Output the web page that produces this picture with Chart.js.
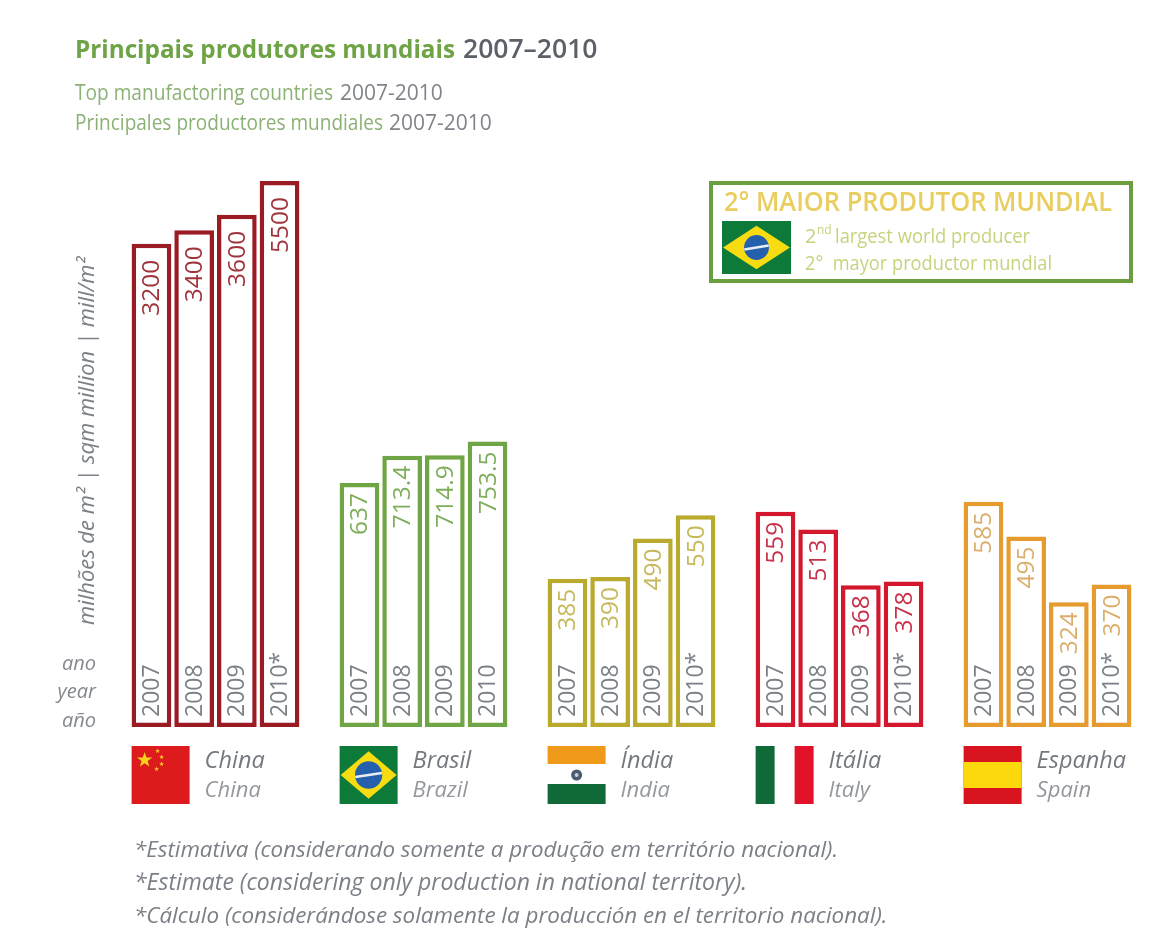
<!DOCTYPE html>
<html>
<head>
<meta charset="utf-8">
<title>Principais produtores mundiais 2007-2010</title>
<style>
  html, body { margin: 0; padding: 0; background: #fff; }
  canvas { display: block; }
</style>
<script src="https://cdn.jsdelivr.net/npm/chart.js@4"></script>
</head>
<body>
<canvas id="producers" width="1167" height="928"></canvas>
<script>
const countries = ["China", "Brasil", "Índia", "Itália", "Espanha"];
const countriesEn = ["China", "Brazil", "India", "Italy", "Spain"];
const years = ["2007", "2008", "2009", "2010"];
const values2007 = [3200, 637, 385, 559, 585];
const values2008 = [3400, 713.4, 390, 513, 495];
const values2009 = [3600, 714.9, 490, 368, 324];
const values2010 = [5500, 753.5, 550, 378, 370];
const estimated2010 = [true, false, true, true, true];

const barColors = ["#9b1b25", "#6fa544", "#b9a92c", "#d3182e", "#e59b2d"];
const valueColors = ["#a0343c", "#7fae5a", "#c6b95c", "#c9304a", "#dcae6c"];
const FONT = '"Open Sans", "Noto Sans", sans-serif';
const GREY = "#7b8087";

// axis is not linear above ~800, the top of the China group is squeezed
class SteppedScale extends Chart.LinearScale {
  static id = "stepped";
  static defaults = Chart.LinearScale.defaults;
  getPixelForValue(value) {
    const stops = this.options.stops;
    let i = 1;
    while (i < stops.length - 1 && value > stops[i][0]) i++;
    const [v0, d0] = stops[i - 1];
    const [v1, d1] = stops[i];
    return this.getPixelForDecimal(d0 + (value - v0) / (v1 - v0) * (d1 - d0));
  }
}
Chart.register(SteppedScale);

function text(ctx, str, x, y, font, color, width, align) {
  ctx.font = font;
  ctx.fillStyle = color;
  ctx.textAlign = align || "left";
  ctx.textBaseline = "alphabetic";
  if (width) ctx.fillText(str, x, y, width);
  else ctx.fillText(str, x, y);
}

function star(ctx, cx, cy, r) {
  ctx.beginPath();
  for (let i = 0; i < 10; i++) {
    const a = -Math.PI / 2 + i * Math.PI / 5;
    const rr = i % 2 ? r * 0.4 : r;
    ctx.lineTo(cx + rr * Math.cos(a), cy + rr * Math.sin(a));
  }
  ctx.closePath();
  ctx.fill();
}

function flagBrazil(ctx, x, y, w, h) {
  ctx.fillStyle = "#0d7a3a";
  ctx.fillRect(x, y, w, h);
  ctx.fillStyle = "#f7dc12";
  ctx.beginPath();
  ctx.moveTo(x + 1, y + h / 2);
  ctx.lineTo(x + w / 2, y + h * 0.09);
  ctx.lineTo(x + w - 1, y + h / 2);
  ctx.lineTo(x + w / 2, y + h * 0.91);
  ctx.closePath();
  ctx.fill();
  ctx.fillStyle = "#2460ae";
  ctx.beginPath();
  ctx.arc(x + w / 2, y + h / 2, h * 0.235, 0, Math.PI * 2);
  ctx.fill();
  ctx.strokeStyle = "#e8eef2";
  ctx.lineWidth = 2.5;
  ctx.beginPath();
  ctx.moveTo(x + w / 2 - h * 0.23, y + h / 2 + 2);
  ctx.lineTo(x + w / 2 + h * 0.23, y + h / 2 - 2);
  ctx.stroke();
}

function flagChina(ctx, x, y, w, h) {
  ctx.fillStyle = "#dd1a1c";
  ctx.fillRect(x, y, w, h);
  ctx.fillStyle = "#f7d21c";
  star(ctx, x + 13, y + 14, 8);
  star(ctx, x + 26, y + 5, 2.6);
  star(ctx, x + 30, y + 11, 2.6);
  star(ctx, x + 30, y + 18, 2.6);
  star(ctx, x + 25, y + 23, 2.6);
}

function flagIndia(ctx, x, y, w, h) {
  ctx.fillStyle = "#f09a1c";
  ctx.fillRect(x, y, w, 18);
  ctx.fillStyle = "#0f6a38";
  ctx.fillRect(x, y + h - 20, w, 20);
  ctx.fillStyle = "#4a5a70";
  ctx.beginPath();
  ctx.arc(x + w / 2, y + h / 2, 5.5, 0, Math.PI * 2);
  ctx.fill();
  ctx.fillStyle = "#c9ced4";
  ctx.beginPath();
  ctx.arc(x + w / 2, y + h / 2, 2, 0, Math.PI * 2);
  ctx.fill();
}

function flagItaly(ctx, x, y, w, h) {
  ctx.fillStyle = "#0f6a38";
  ctx.fillRect(x, y, 19, h);
  ctx.fillStyle = "#e1122a";
  ctx.fillRect(x + w - 19, y, 19, h);
}

function flagSpain(ctx, x, y, w, h) {
  ctx.fillStyle = "#d8141e";
  ctx.fillRect(x, y, w, h);
  ctx.fillStyle = "#fbd90c";
  ctx.fillRect(x, y + 16, w, h - 32);
}

const flags = [flagChina, flagBrazil, flagIndia, flagItaly, flagSpain];

// rotated year and value inside each bar
const barLabels = {
  id: "barLabels",
  afterDatasetsDraw(chart) {
    const ctx = chart.ctx;
    chart.data.datasets.forEach((ds, d) => {
      chart.getDatasetMeta(d).data.forEach((bar, i) => {
        const value = ds.data[i];
        const year = years[d] + (d === 3 && estimated2010[i] ? "*" : "");
        ctx.save();
        ctx.translate(bar.x + 1, 0);
        ctx.rotate(-Math.PI / 2);
        ctx.textBaseline = "middle";
        ctx.font = "23px " + FONT;
        ctx.fillStyle = GREY;
        ctx.textAlign = "left";
        ctx.fillText(year, -(bar.base - 10), 0);
        ctx.font = "24.5px " + FONT;
        ctx.fillStyle = valueColors[i];
        ctx.textAlign = "right";
        ctx.fillText(String(value), -(bar.y + (value >= 1000 ? 16 : 10)), 0);
        ctx.restore();
      });
    });
  },
};

// flags and the two country names under each group
const countryRow = {
  id: "countryRow",
  afterDraw(chart) {
    const ctx = chart.ctx;
    const first = chart.getDatasetMeta(0).data;
    first.forEach((bar, i) => {
      const left = bar.x - bar.width / 2;
      flags[i](ctx, left, 746, 58, 58);
      text(ctx, countries[i], left + 73, 768, "italic 23.5px " + FONT, "#747980");
      text(ctx, countriesEn[i], left + 73, 797, "italic 22px " + FONT, "#94989e");
    });
  },
};

// heading, axis captions, callout box and footnotes
const pageText = {
  id: "pageText",
  afterDraw(chart) {
    const ctx = chart.ctx;
    text(ctx, "Principais produtores mundiais", 75, 58, "bold 25px " + FONT, "#6ea346", 380);
    text(ctx, "2007–2010", 463, 58, "600 26.5px " + FONT, "#5c6169", 136);
    text(ctx, "Top manufactoring countries", 75, 100, "21px " + FONT, "#8bb174", 258);
    text(ctx, "2007-2010", 340, 100, "21px " + FONT, "#80848a", 103);
    text(ctx, "Principales productores mundiales", 75, 130, "21px " + FONT, "#8bb174", 308);
    text(ctx, "2007-2010", 389, 130, "21px " + FONT, "#80848a", 103);

    ctx.save();
    ctx.translate(94, 625);
    ctx.rotate(-Math.PI / 2);
    text(ctx, "milhões de m² | sqm million | mill/m²", 0, 0, "italic 22px " + FONT, GREY, 368);
    ctx.restore();
    text(ctx, "ano", 96, 670, "italic 20px " + FONT, "#85898f", null, "right");
    text(ctx, "year", 96, 698, "italic 20px " + FONT, "#85898f", null, "right");
    text(ctx, "año", 96, 727, "italic 20px " + FONT, "#85898f", null, "right");

    ctx.strokeStyle = "#6a9e3f";
    ctx.lineWidth = 4;
    ctx.strokeRect(711, 183, 420, 98);
    text(ctx, "2° MAIOR PRODUTOR MUNDIAL", 724, 211, "600 27px " + FONT, "#e9cd5e", 388);
    flagBrazil(ctx, 722, 221, 69, 53);
    text(ctx, "2", 805, 243, "20px " + FONT, "#c8d27c");
    text(ctx, "nd", 817, 234, "12px " + FONT, "#c8d27c");
    text(ctx, "largest world producer", 835, 243, "20px " + FONT, "#c8d27c", 195);
    text(ctx, "2°  mayor productor mundial", 805, 270, "20px " + FONT, "#c8d27c", 247);

    text(ctx, "*Estimativa (considerando somente a produção em território nacional).", 134, 857, "italic 22.4px " + FONT, GREY, 704);
    text(ctx, "*Estimate (considering only production in national territory).", 134, 890, "italic 23px " + FONT, GREY, 613);
    text(ctx, "*Cálculo (considerándose solamente la producción en el territorio nacional).", 134, 923, "italic 22.4px " + FONT, GREY, 754);
  },
};

const series = [values2007, values2008, values2009, values2010];

new Chart(document.getElementById("producers"), {
  type: "bar",
  data: {
    labels: countries,
    datasets: series.map((values, i) => ({
      label: years[i],
      data: values,
      backgroundColor: "#fff",
      borderColor: barColors,
      borderWidth: 4.5,
      borderSkipped: false,
      inflateAmount: 0,
      categoryPercentage: 0.821,
      barPercentage: 0.93,
    })),
  },
  options: {
    responsive: false,
    animation: false,
    layout: { padding: { left: 111.5, right: 15.5, top: 181, bottom: 201 } },
    plugins: { legend: { display: false }, tooltip: { enabled: false } },
    scales: {
      x: { display: false },
      y: {
        type: "stepped",
        display: false,
        min: 0,
        max: 5500,
        stops: [[0, 0], [600, 0.423], [800, 0.553], [3200, 0.885], [3400, 0.91], [3600, 0.938], [5500, 1]],
      },
    },
  },
  plugins: [barLabels, countryRow, pageText],
});
</script>
</body>
</html>
